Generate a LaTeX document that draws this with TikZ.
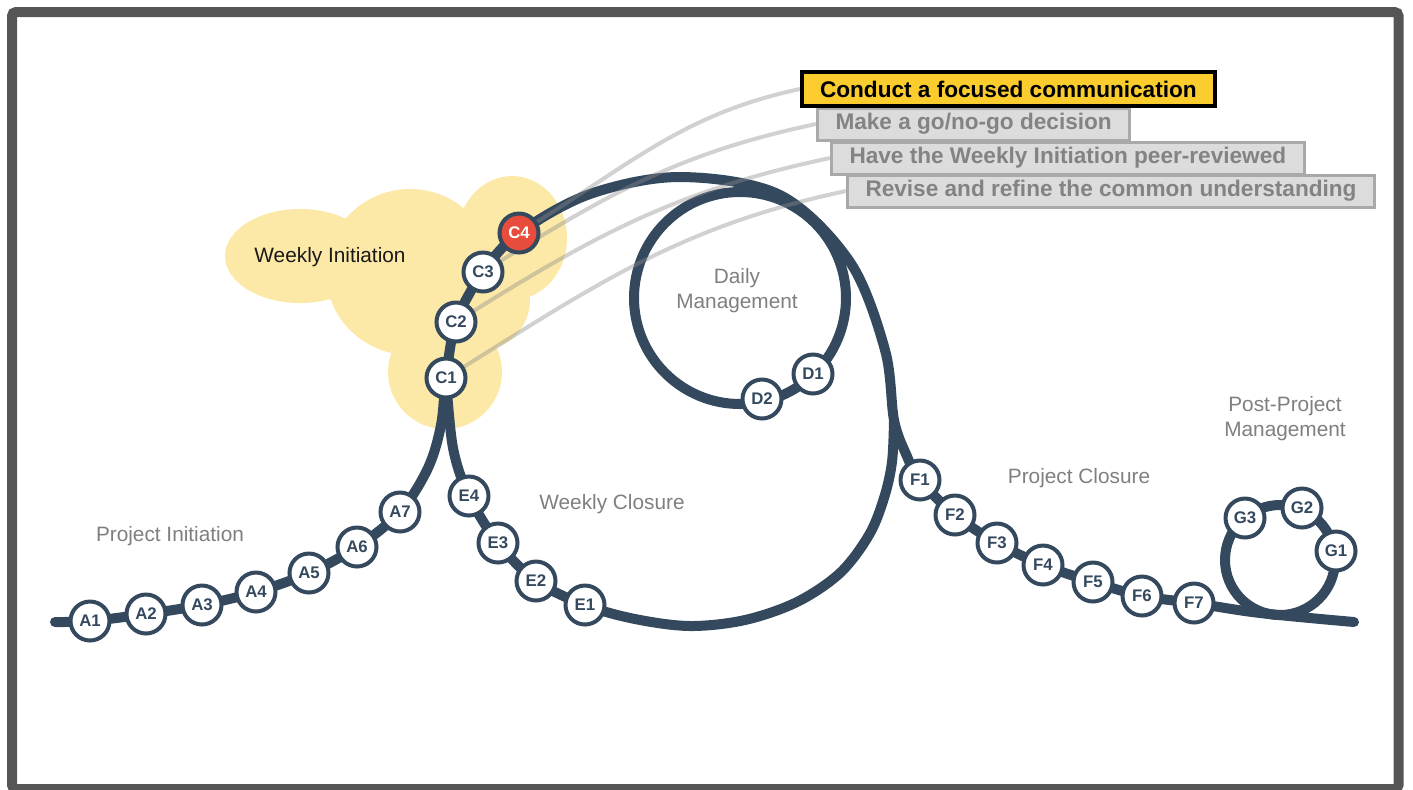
\documentclass[tikz,border=0pt]{standalone}
\usepackage{fontspec}
\setmainfont{Liberation Sans}
\usetikzlibrary{backgrounds}

\definecolor{navy}{HTML}{34495E}
\definecolor{hotred}{HTML}{E74C3C}
\definecolor{cloud}{HTML}{FDE9A7}
\definecolor{boxyellow}{HTML}{FACC2E}
\definecolor{boxfill}{HTML}{DCDCDC}
\definecolor{boxedge}{HTML}{A9A9A9}
\definecolor{boxtext}{HTML}{838383}
\definecolor{labelgray}{HTML}{7F7F7F}
\definecolor{framegray}{HTML}{555555}

\begin{document}
\begin{tikzpicture}[
	x=0.5pt, y=-0.5pt,
	st/.style = {circle, draw=navy, fill=white, line width=2pt, minimum size=19.5pt, inner sep=0pt, text=navy, font=\fontsize{8.4}{9}\selectfont\bfseries},
	cur/.style = {st, fill=hotred, text=white},
	lb/.style = {text=labelgray, align=center, font=\fontsize{10.4}{12.5}\selectfont},
	bx/.style = {rectangle, anchor=west, draw=boxedge, fill=boxfill, line width=1.5pt, text=boxtext, inner xsep=9pt, inner ysep=0pt, minimum height=16pt, font=\fontsize{11.3}{13}\selectfont\bfseries},
	tr/.style = {draw=navy, line width=5pt, line cap=round},
	ld/.style = {draw=black!45, line width=2pt, opacity=0.4}
	]
	
	\useasboundingbox (0,0) rectangle (1413,789);
	\draw[line width=5pt, draw=framegray, rounded corners=2pt] (12,12) rectangle (1398.5,789);
	
	%Nodes
	\node[st]	(A1)	at	(90, 621)	{A1};
	\node[st]	(A2)	at	(146, 614)	{A2};
	\node[st]	(A3)	at	(202, 605)	{A3};
	\node[st]	(A4)	at	(256, 592)	{A4};
	\node[st]	(A5)	at	(309, 573)	{A5};
	\node[st]	(A6)	at	(357, 547)	{A6};
	\node[st]	(A7)	at	(400, 512)	{A7};
	\node[st]	(C1)	at	(446, 378)	{C1};
	\node[st]	(C2)	at	(456, 322)	{C2};
	\node[st]	(C3)	at	(483, 272)	{C3};
	\node[cur]	(C4)	at	(519, 233)	{C4};
	\node[st]	(D1)	at	(813, 374)	{D1};
	\node[st]	(D2)	at	(762, 399)	{D2};
	\node[st]	(E1)	at	(585, 605)	{E1};
	\node[st]	(E2)	at	(536, 581)	{E2};
	\node[st]	(E3)	at	(498, 543)	{E3};
	\node[st]	(E4)	at	(469, 496)	{E4};
	\node[st]	(F1)	at	(920, 480)	{F1};
	\node[st]	(F2)	at	(955, 515)	{F2};
	\node[st]	(F3)	at	(997, 543)	{F3};
	\node[st]	(F4)	at	(1043, 565)	{F4};
	\node[st]	(F5)	at	(1093, 582)	{F5};
	\node[st]	(F6)	at	(1142, 596)	{F6};
	\node[st]	(F7)	at	(1194, 603)	{F7};
	\node[st]	(G1)	at	(1336, 551)	{G1};
	\node[st]	(G2)	at	(1302, 508)	{G2};
	\node[st]	(G3)	at	(1245, 518)	{G3};
	
	\coordinate	(start)	at	(55, 622);
	\coordinate	(end)	at	(1354, 622);
	\coordinate	(fork)	at	(894, 420);
	
	%Labels
	\node[lb]	(pi)	at	(170, 536)	{Project Initiation};
	\node[lb, text=black!90]	(wi)	at	(330, 257)	{Weekly Initiation};
	\node[lb]	(dm)	at	(737, 291)	{Daily\\Management};
	\node[lb]	(wc)	at	(612, 504)	{Weekly Closure};
	\node[lb]	(pc)	at	(1079, 478)	{Project Closure};
	\node[lb]	(pp)	at	(1285, 419)	{Post-Project\\Management};
	
	\node[bx]	(b4)	at	(846, 191)	{Revise and refine the common understanding};
	\node[bx]	(b3)	at	(830, 158)	{Have the Weekly Initiation peer-reviewed};
	\node[bx]	(b2)	at	(816, 124)	{Make a go/no-go decision};
	\node[bx, draw=black, fill=boxyellow, text=black, line width=2pt, minimum height=17pt]	(b1)	at	(800, 89)	{Conduct a focused communication};
	
	\begin{scope}[on background layer]
		%Cloud
		\fill[cloud]	(300, 256)	ellipse	[x radius=37.5pt, y radius=23.5pt];
		\fill[cloud]	(410, 272)	ellipse	[x radius=42pt, y radius=41.5pt];
		\fill[cloud]	(512, 238)	ellipse	[x radius=27.5pt, y radius=31pt];
		\fill[cloud]	(480, 300)	circle	[radius=25pt];
		\fill[cloud]	(445, 372)	circle	[radius=28.5pt];
		
		%Lines
		\draw[tr]	plot[smooth, tension=0.55] coordinates {(start) (A1.center) (A2.center) (A3.center) (A4.center) (A5.center) (A6.center) (A7.center) (428, 468) (441, 425) (C1.center) (C2.center) (C3.center) (C4.center) (590, 194) (680, 177) (780, 195) (850, 262) (885, 350) (fork) (906, 454) (F1.center) (F2.center) (F3.center) (F4.center) (F5.center) (F6.center) (F7.center) (1260, 613) (end)};
		\draw[tr]	plot[smooth, tension=0.55] coordinates {(fork) (892, 462) (884, 498) (869, 535) (840, 573) (797, 602) (745, 620) (690, 626) (635, 619) (E1.center) (E2.center) (E3.center) (E4.center) (453, 448) (C1.center)};
		\draw[tr]	(740, 298)	circle	[radius=53pt];
		\draw[tr]	(1280, 560)	circle	[radius=27.5pt];
		
		\draw[ld]	(C1)	to[out=32, in=192]	(b4.west);
		\draw[ld]	(C2)	to[out=32, in=192]	(b3.west);
		\draw[ld]	(C3)	to[out=32, in=192]	(b2.west);
		\draw[ld]	(C4)	to[out=32, in=192]	(b1.west);
	\end{scope}
	
\end{tikzpicture}
\end{document}
